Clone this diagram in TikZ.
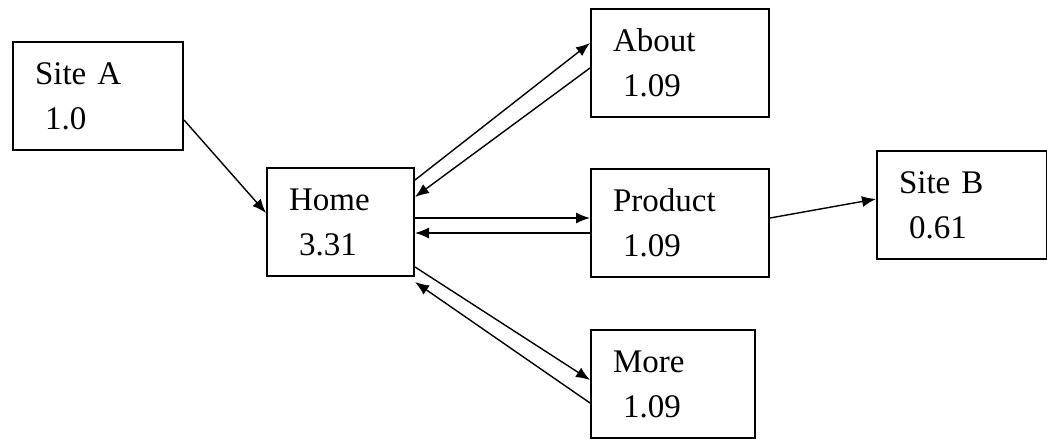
\documentclass[tikz,border=0pt]{standalone}
\usepackage{fontspec}
\setmainfont{Liberation Serif}
\usetikzlibrary{arrows.meta,calc}

\begin{document}
\begin{tikzpicture}[x=0.5pt,y=-0.5pt,
    page/.style={draw, line width=1pt, anchor=north west, align=left,
        inner xsep=11pt, minimum height=54pt,
        font=\fontsize{16.5}{22.5}\selectfont},
    link/.style={line width=0.7pt, -{Latex[length=7pt,width=5.5pt]}}]
    \useasboundingbox (0,0) rectangle (1047,439);

    % Page boxes
    \node[page, text width=63pt] (siteA) at (12,41) {Site A\\\hspace*{5pt}1.0};
    \node[page, text width=51.5pt] (home) at (266,167) {Home\\\hspace*{5pt}3.31};
    \node[page, text width=67pt] (about) at (590,8) {About\\\hspace*{5pt}1.09};
    \node[page, text width=67pt] (product) at (590,168) {Product\\\hspace*{5pt}1.09};
    \node[page, text width=60pt] (more) at (590,329) {More\\\hspace*{5pt}1.09};
    \node[page, text width=63pt] (siteB) at (876,150) {Site B\\\hspace*{5pt}0.61};

    % Site A into Home
    \draw[link] ([yshift=-39.5pt]siteA.north east) -- ([yshift=-23pt]home.north west);

    % Home and About
    \draw[link] ([yshift=-6.5pt]home.north east) -- ([yshift=-17.5pt]about.north west);
    \draw[link] ([yshift=-30pt]about.north west) -- ([yshift=-15pt]home.north east);

    % Home and Product
    \draw[link] ([yshift=-25.5pt]home.north east) -- ([yshift=-25pt]product.north west);
    \draw[link] ([yshift=-32.5pt]product.north west) -- ([yshift=-33pt]home.north east);

    % Home and More
    \draw[link] ([yshift=5pt]home.south east) -- ([yshift=-25.5pt]more.north west);
    \draw[link] ([yshift=-37pt]more.north west) -- ([yshift=-2.5pt]home.south east);

    % Product out to Site B
    \draw[link] ([yshift=-25pt]product.north east) -- ([yshift=-24.5pt]siteB.north west);
\end{tikzpicture}
\end{document}
